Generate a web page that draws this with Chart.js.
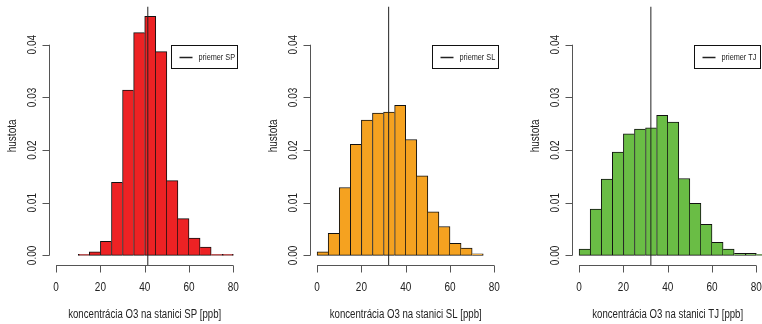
<!DOCTYPE html>
<html>
<head>
<meta charset="utf-8">
<script src="https://cdn.jsdelivr.net/npm/chart.js"></script>
<style>
    body { margin: 0; width: 762px; height: 324px; overflow: hidden; background: #fff; position: relative; }
    .panel { position: absolute; top: 0; width: 254px; height: 324px; }
</style>
</head>
<body>
<div class="panel" style="left:0px"><canvas id="chartSP" width="254" height="324"></canvas></div>
<div class="panel" style="left:261px"><canvas id="chartSL" width="254" height="324"></canvas></div>
<div class="panel" style="left:523px"><canvas id="chartTJ" width="254" height="324"></canvas></div>
<script>
// histogram bins (left break of each 5 ppb bin) and densities
const binStarts = [0, 5, 10, 15, 20, 25, 30, 35, 40, 45, 50, 55, 60, 65, 70, 75, 80];
const spDensity = [null, null, 0.0002, 0.0007, 0.0027, 0.0139, 0.0314, 0.0423, 0.0454, 0.0387, 0.0142, 0.0070, 0.0033, 0.0016, 0.0002, 0.0002, null];
const slDensity = [0.0007, 0.0042, 0.0129, 0.0211, 0.0257, 0.0270, 0.0272, 0.0285, 0.0220, 0.0151, 0.0083, 0.0055, 0.0023, 0.0014, 0.0003, null, null];
const tjDensity = [0.0012, 0.0088, 0.0145, 0.0196, 0.0231, 0.0240, 0.0242, 0.0266, 0.0253, 0.0146, 0.0099, 0.0059, 0.0025, 0.0012, 0.0004, 0.0004, 0.0002];
const stations = ['SP', 'SL', 'TJ'];
const means = [41.4, 32.3, 32.4];
const xTicks = [0, 20, 40, 60, 80];
const yTicks = [0, 0.01, 0.02, 0.03, 0.04];
const yTickLabels = ['0.00', '0.01', '0.02', '0.03', '0.04'];

const binWidth = 5;
const yTop = Math.max(...spDensity, ...slDensity, ...tjDensity);
const FONT = '"Liberation Sans", Arial, sans-serif';
const TEXT = '#222';

function drawText(ctx, text, x, y, size, opts = {}) {
    ctx.save();
    ctx.translate(x, y);
    if (opts.rotate) ctx.rotate(-Math.PI / 2);
    ctx.scale(0.77, 1);
    ctx.font = size + 'px ' + FONT;
    ctx.fillStyle = TEXT;
    ctx.textAlign = opts.align || 'center';
    ctx.textBaseline = 'middle';
    ctx.fillText(text, 0, 0);
    ctx.restore();
}

// R-style detached axes, titles and legend
const baseGraphics = {
    id: 'baseGraphics',
    afterDraw(chart, args, opts) {
        const ctx = chart.ctx;
        const x = chart.scales.x, y = chart.scales.y;
        const area = chart.chartArea;
        ctx.save();
        ctx.strokeStyle = '#555';
        ctx.lineWidth = 1;

        // x axis
        const xb = Math.round(area.bottom) + 0.5;
        ctx.beginPath();
        ctx.moveTo(x.getPixelForValue(xTicks[0]), xb);
        ctx.lineTo(x.getPixelForValue(xTicks[xTicks.length - 1]), xb);
        xTicks.forEach(t => {
            const px = Math.round(x.getPixelForValue(t)) + 0.5;
            ctx.moveTo(px, xb);
            ctx.lineTo(px, xb + 7);
        });
        ctx.stroke();
        xTicks.forEach(t => drawText(ctx, String(t), x.getPixelForValue(t), xb + 22, 13));

        // y axis
        const yl = Math.round(area.left) + 0.5;
        ctx.beginPath();
        ctx.moveTo(yl, y.getPixelForValue(yTicks[0]));
        ctx.lineTo(yl, y.getPixelForValue(yTicks[yTicks.length - 1]));
        yTicks.forEach(t => {
            const py = Math.round(y.getPixelForValue(t)) + 0.5;
            ctx.moveTo(yl, py);
            ctx.lineTo(yl - 7, py);
        });
        ctx.stroke();
        yTicks.forEach((t, i) => drawText(ctx, yTickLabels[i], yl - 17, y.getPixelForValue(t), 13, { rotate: true }));

        // titles
        drawText(ctx, 'koncentrácia O3 na stanici ' + opts.station + ' [ppb]', (area.left + area.right) / 2, 315, 12.5);
        drawText(ctx, 'hustota', 12, (area.top + area.bottom) / 2, 13, { rotate: true });

        // legend
        const lx = Math.round(x.getPixelForValue(52)) + 0.5;
        const ly = Math.round(y.getPixelForValue(0.04)) + 0.5;
        ctx.fillStyle = '#fff';
        ctx.fillRect(lx, ly, 66, 23);
        ctx.strokeStyle = '#111';
        ctx.strokeRect(lx, ly, 66, 23);
        ctx.strokeStyle = '#222';
        ctx.lineWidth = 1.5;
        ctx.beginPath();
        ctx.moveTo(lx + 8, ly + 12);
        ctx.lineTo(lx + 21, ly + 12);
        ctx.stroke();
        drawText(ctx, 'priemer ' + opts.station, lx + 27, ly + 12, 9.5, { align: 'left' });
        ctx.restore();
    }
};

function barBorder(c) {
    const d = c.dataset.data;
    const i = c.dataIndex;
    const v = d[i].y;
    const prev = i > 0 ? d[i - 1].y : null;
    const next = i < d.length - 1 ? d[i + 1].y : null;
    return {
        top: 1,
        bottom: 1,
        left: (prev == null || prev <= v) ? 1 : 0,
        right: (next == null || next < v) ? 1 : 0
    };
}

function makeHistogram(canvasId, density, color, mean, station) {
    const ctx = document.getElementById(canvasId);
    new Chart(ctx.getContext('2d'), {
        type: 'bar',
        data: {
            datasets: [{
                type: 'line',
                data: [{ x: mean, y: -1 }, { x: mean, y: 1 }],
                borderColor: '#222',
                borderWidth: 1,
                pointRadius: 0,
                order: 0
            }, {
                data: binStarts.map((b, i) => ({ x: b + binWidth / 2, y: density[i] })),
                backgroundColor: color,
                borderColor: '#111',
                borderWidth: barBorder,
                borderSkipped: false,
                barPercentage: 1,
                categoryPercentage: 1,
                order: 1
            }]
        },
        options: {
            responsive: false,
            animation: false,
            layout: { padding: { left: 49, right: 13.6, top: 6.7, bottom: 59 } },
            plugins: {
                legend: { display: false },
                tooltip: { enabled: false },
                baseGraphics: { station: station }
            },
            scales: {
                x: {
                    type: 'linear',
                    display: false,
                    offset: false,
                    min: -3.2,
                    max: 83.2,
                    ticks: { stepSize: 20, includeBounds: false }
                },
                y: {
                    display: false,
                    min: -yTop * 0.04,
                    max: yTop * 1.04
                }
            }
        },
        plugins: [baseGraphics]
    });
}

makeHistogram('chartSP', spDensity, '#ED2224', means[0], stations[0]);
makeHistogram('chartSL', slDensity, '#F5A220', means[1], stations[1]);
makeHistogram('chartTJ', tjDensity, '#6ABD45', means[2], stations[2]);
</script>
</body>
</html>
